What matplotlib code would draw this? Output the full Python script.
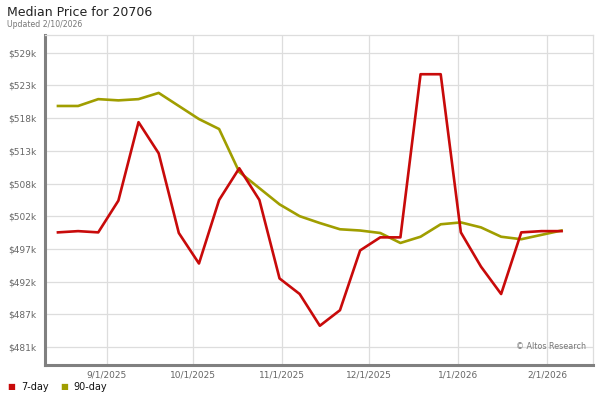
import datetime as dt

import matplotlib
matplotlib.use("Agg")
import matplotlib.pyplot as plt
import matplotlib.dates as mdates

# weekly median price, thousands of dollars
start = dt.date(2025, 8, 15)
dates = [start + dt.timedelta(days=7 * i) for i in range(26)]

price_7day = [500.3, 500.5, 500.3, 505.4, 518.0, 513.0, 500.2, 495.3, 505.5, 510.6,
              505.5, 492.9, 490.4, 485.3, 487.8, 497.4, 499.5, 499.5, 525.7, 525.7,
              500.3, 494.8, 490.4, 500.3, 500.5, 500.5]
price_90day = [520.6, 520.6, 521.7, 521.5, 521.7, 522.7, 520.6, 518.5, 516.9, 510.0,
               507.4, 504.8, 502.9, 501.8, 500.8, 500.6, 500.2, 498.6, 499.6, 501.6,
               501.9, 501.1, 499.6, 499.2, 499.9, 500.6]

ytick_vals = [481.9 + 5.25 * i for i in range(10)]
ytick_labels = ["$481k", "$487k", "$492k", "$497k", "$502k",
                "$508k", "$513k", "$518k", "$523k", "$529k"]
xtick_dates = [dt.date(2025, 9, 1), dt.date(2025, 10, 1), dt.date(2025, 11, 1),
               dt.date(2025, 12, 1), dt.date(2026, 1, 1), dt.date(2026, 2, 1)]
xtick_labels = ["9/1/2025", "10/1/2025", "11/1/2025", "12/1/2025", "1/1/2026", "2/1/2026"]

red = "#c80a0a"
olive = "#a09e00"

fig = plt.figure(figsize=(6, 4), dpi=100)
ax = fig.add_axes([0.075, 0.0875, 0.9133, 0.825])

ax.plot(dates, price_7day, color=red, lw=1.9, zorder=3)
ax.plot(dates, price_90day, color=olive, lw=1.9, zorder=2)

ax.set_xlim(dt.datetime(2025, 8, 10, 12), dt.datetime(2026, 2, 16, 22))
ax.set_ylim(479.0, 532.0)

ax.set_yticks(ytick_vals)
ax.set_yticklabels(ytick_labels)
ax.set_xticks([mdates.date2num(d) for d in xtick_dates])
ax.set_xticklabels(xtick_labels)
ax.tick_params(length=0, labelsize=6.5, labelcolor="#666666")
ax.tick_params(axis="y", pad=6)
ax.tick_params(axis="x", pad=4)

ax.grid(True, color="#dddddd", lw=0.9)
ax.set_axisbelow(True)

for side in ("top", "right"):
    ax.spines[side].set_color("#dddddd")
    ax.spines[side].set_linewidth(0.9)
for side in ("left", "bottom"):
    ax.spines[side].set_color("#808080")
    ax.spines[side].set_linewidth(2.2)

ax.text(0.988, 0.055, "\u00a9 Altos Research", transform=ax.transAxes,
        ha="right", va="center", fontsize=5.8, color="#777777")

fig.text(0.012, 0.968, "Median Price for 20706", fontsize=9, color="#222222",
         ha="left", va="center")
fig.text(0.012, 0.938, "Updated 2/10/2026", fontsize=5.6, color="#777777",
         ha="left", va="center")

# legend
fig.text(0.012, 0.033, "\u25a0", fontsize=6, color=red, ha="left", va="center")
fig.text(0.035, 0.033, "7-day", fontsize=7, color="#111111", ha="left", va="center")
fig.text(0.100, 0.033, "\u25a0", fontsize=6, color=olive, ha="left", va="center")
fig.text(0.122, 0.033, "90-day", fontsize=7, color="#111111", ha="left", va="center")

fig.savefig("out.png", dpi=100)
